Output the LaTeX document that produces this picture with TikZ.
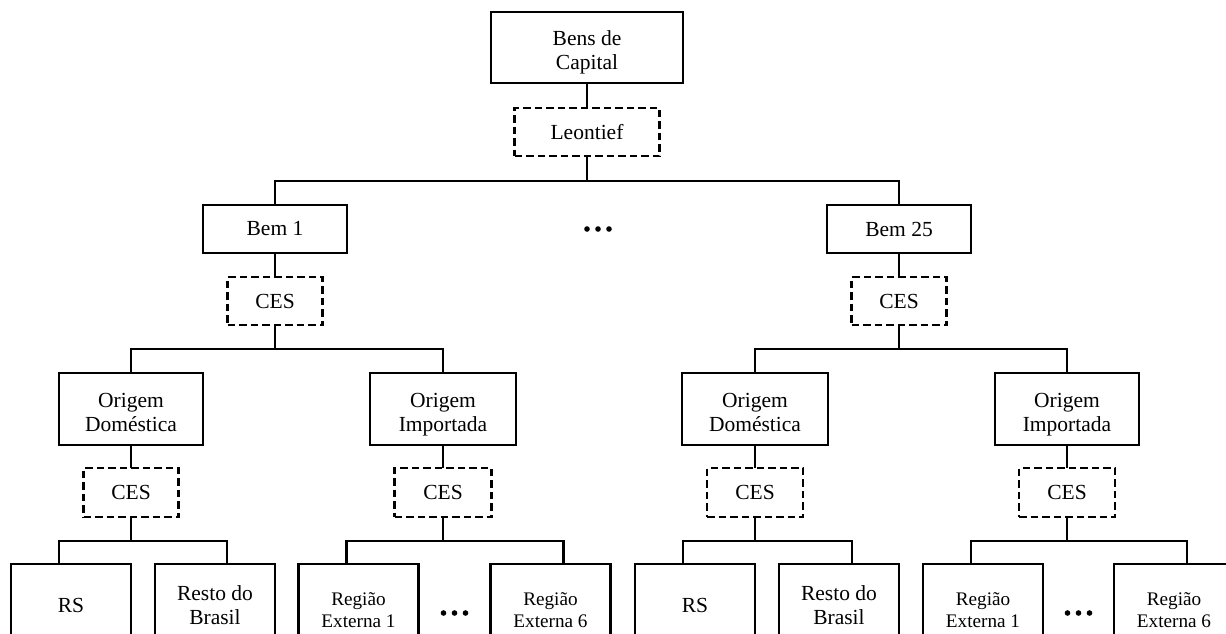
\documentclass[tikz,border=0pt]{standalone}
\usepackage{fontspec}
\setmainfont{Liberation Serif}
\usetikzlibrary{calc}
\newcommand{\twolines}[3][12pt]{\rule{0pt}{\dimexpr\ht\strutbox+#1\relax}#2\\#3\strut}
\tikzset{
  box/.style={draw, line width=2.2pt, inner sep=0pt, outer sep=0pt, align=center,
    font=\fontsize{21.5}{24}\selectfont, minimum height=48pt},
  dbox/.style={box, dash pattern=on 7.5pt off 4pt},
  leaf/.style={box, minimum width=120pt, minimum height=82pt},
  small/.style={font=\fontsize{19.2}{22.5}\selectfont},
  conn/.style={line width=2.2pt},
  dot/.style={fill=black}
}
\begin{document}
\begin{tikzpicture}[x=1pt,y=-1pt]
\useasboundingbox (0,0) rectangle (1226,633);
\clip (0,0) rectangle (1226,633);
% level 0
\node[box, minimum width=192pt, minimum height=71pt] (top) at (587,47.5) {\twolines[10pt]{Bens de}{Capital}};
\node[dbox, minimum width=145pt] (leon) at (587,132) {Leontief};
% level 1
\node[box, minimum width=144pt] (bem1) at (275,229) {Bem 1};
\node[dbox, minimum width=95pt] (ces1) at (275,301) {CES};
\node[box, minimum width=144pt] (bem25) at (899,229) {Bem 25};
\node[dbox, minimum width=95pt] (ces25) at (899,301) {CES};
% level 2
\node[box, minimum width=144pt, minimum height=72pt] (od1) at (131,409) {\twolines{Origem}{Doméstica}};
\node[dbox, minimum width=95pt, minimum height=49pt] (cod1) at (131,492.5) {CES};
\node[box, minimum width=146pt, minimum height=72pt] (oi1) at (443,409) {\twolines{Origem}{Importada}};
\node[dbox, minimum width=97pt, minimum height=49pt] (coi1) at (443,492.5) {CES};
\node[box, minimum width=146pt, minimum height=72pt] (od2) at (755,409) {\twolines{Origem}{Doméstica}};
\node[dbox, minimum width=96pt, minimum height=49pt] (cod2) at (755,492.5) {CES};
\node[box, minimum width=144pt, minimum height=72pt] (oi2) at (1067,409) {\twolines{Origem}{Importada}};
\node[dbox, minimum width=96pt, minimum height=49pt] (coi2) at (1067,492.5) {CES};
% leaves
\node[leaf] (rs1) at (71,605) {RS};
\node[leaf] (resto1) at (215,605) {\twolines[6pt]{Resto do}{Brasil}};
\node[leaf, small] (re1a) at (358.5,605) {\twolines[14pt]{Região}{Externa 1}};
\node[leaf, small] (re6a) at (550.5,605) {\twolines[14pt]{Região}{Externa 6}};
\node[leaf] (rs2) at (695,605) {RS};
\node[leaf] (resto2) at (839,605) {\twolines[6pt]{Resto do}{Brasil}};
\node[leaf, small] (re1b) at (983,605) {\twolines[14pt]{Região}{Externa 1}};
\node[leaf, small] (re6b) at (1174,605) {\twolines[14pt]{Região}{Externa 6}};
% connectors
\draw[conn] (top) -- (leon);
\draw[conn] (leon.south) -- ++(0,25) coordinate (h0);
\draw[conn] (bem1.north) |- (h0) -| (bem25.north);
\draw[conn] (bem1) -- (ces1);
\draw[conn] (bem25) -- (ces25);
\draw[conn] (ces1.south) -- ++(0,24) coordinate (h1);
\draw[conn] (od1.north) |- (h1) -| (oi1.north);
\draw[conn] (ces25.south) -- ++(0,24) coordinate (h2);
\draw[conn] (od2.north) |- (h2) -| (oi2.north);
\draw[conn] (od1) -- (cod1);
\draw[conn] (oi1) -- (coi1);
\draw[conn] (od2) -- (cod2);
\draw[conn] (oi2) -- (coi2);
\draw[conn] (cod1.south) -- ++(0,24) coordinate (g1);
\draw[conn] ($(rs1.north west)+(48,0)$) |- (g1) -| ($(resto1.north west)+(72,0)$);
\draw[conn] (coi1.south) -- ++(0,24) coordinate (g2);
\draw[conn] ($(re1a.north west)+(48,0)$) |- (g2) -| ($(re6a.north west)+(73,0)$);
\draw[conn] (cod2.south) -- ++(0,24) coordinate (g3);
\draw[conn] ($(rs2.north west)+(48,0)$) |- (g3) -| ($(resto2.north west)+(73,0)$);
\draw[conn] (coi2.south) -- ++(0,24) coordinate (g4);
\draw[conn] ($(re1b.north west)+(48,0)$) |- (g4) -| ($(re6b.north west)+(73,0)$);
% ellipses
\foreach \dx in {-11,0,11} {
  \fill[dot] (598+\dx,229) circle (2.8pt);
  \fill[dot] (454.5+\dx,613) circle (2.8pt);
  \fill[dot] (1078.5+\dx,613) circle (2.8pt);
}
\end{tikzpicture}
\end{document}
